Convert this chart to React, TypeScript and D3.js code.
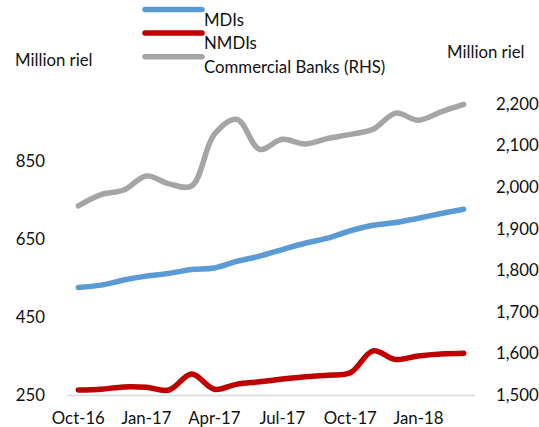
import React from "react";
import * as d3 from "d3";

// Monthly observations, Oct-16 .. Mar-18
const months = [
  "Oct-16", "Nov-16", "Dec-16", "Jan-17", "Feb-17", "Mar-17",
  "Apr-17", "May-17", "Jun-17", "Jul-17", "Aug-17", "Sep-17",
  "Oct-17", "Nov-17", "Dec-17", "Jan-18", "Feb-18", "Mar-18",
];
const tickMonths = ["Oct-16", "Jan-17", "Apr-17", "Jul-17", "Oct-17", "Jan-18"];

// Left axis (million riel)
const mdis = [526, 532, 545, 555, 562, 572, 576, 593, 606, 623, 639, 652, 671, 685, 692, 703, 715, 726];
const nmdis = [264, 266, 272, 271, 264, 305, 266, 279, 285, 292, 298, 302, 308, 364, 342, 351, 356, 358];
// Right axis (million riel)
const commercialBanks = [1955, 1982, 1993, 2027, 2008, 2003, 2127, 2163, 2091, 2115, 2104, 2117, 2127, 2139, 2178, 2161, 2181, 2199];

const leftTicks = [250, 450, 650, 850];
const rightTicks = [1500, 1600, 1700, 1800, 1900, 2000, 2100, 2200];

const BLUE = "#5B9BD5";
const RED = "#C00000";
const GRAY = "#A5A5A5";
const FONT = "Lato, 'Open Sans', sans-serif";
const TEXT = "#111";
const FS = 16.8;

export default function App() {
  const width = 539;
  const height = 427;

  const x = d3.scaleBand<string>().domain(months).range([67, 475]);
  const cx = (m: string) => (x(m) ?? 0) + x.bandwidth() / 2;

  const yLeft = d3.scaleLinear().domain([250, 850]).range([395.5, 160.7]);
  const yRight = d3.scaleLinear().domain([1500, 2200]).range([395, 104]);

  const lineLeft = d3
    .line<number>()
    .x((_, i) => cx(months[i]))
    .y((v) => yLeft(v))
    .curve(d3.curveCatmullRom.alpha(0.5));
  const lineRight = d3
    .line<number>()
    .x((_, i) => cx(months[i]))
    .y((v) => yRight(v))
    .curve(d3.curveCatmullRom.alpha(0.5));

  const legend = [
    { label: "MDIs", color: BLUE },
    { label: "NMDIs", color: RED },
    { label: "Commercial Banks (RHS)", color: GRAY },
  ];

  return (
    <svg
      width={width}
      height={height}
      style={{ position: "absolute", left: 0, top: 0, background: "#fff" }}
      fontFamily={FONT}
    >
      {/* legend */}
      {legend.map((d, i) => (
        <g key={d.label}>
          <line
            x1={145}
            x2={202}
            y1={9.5 + i * 23.6}
            y2={9.5 + i * 23.6}
            stroke={d.color}
            strokeWidth={5.5}
            strokeLinecap="round"
          />
          <text x={204} y={20 + i * 23.6} dy="0.35em" fontSize={FS} fill={TEXT}>
            {d.label}
          </text>
        </g>
      ))}

      {/* axis titles */}
      <text x={15} y={60} dy="0.35em" fontSize={FS} fill={TEXT}>
        Million riel
      </text>
      <text x={447} y={52} dy="0.35em" fontSize={FS} fill={TEXT}>
        Million riel
      </text>

      {/* left ticks */}
      {leftTicks.map((t) => (
        <text key={t} x={45} y={yLeft(t)} dy="0.35em" textAnchor="end" fontSize={FS} fill={TEXT}>
          {t}
        </text>
      ))}
      {/* right ticks */}
      {rightTicks.map((t) => (
        <text key={t} x={496} y={yRight(t)} dy="0.35em" fontSize={FS} fill={TEXT}>
          {d3.format(",")(t)}
        </text>
      ))}

      {/* category axis */}
      <line x1={67} x2={475} y1={395.5} y2={395.5} stroke="#D9D9D9" strokeWidth={1.5} />
      {tickMonths.map((m) => (
        <text key={m} x={cx(m)} y={418} dy="0.35em" textAnchor="middle" fontSize={FS} fill={TEXT}>
          {m}
        </text>
      ))}

      {/* series */}
      <path d={lineRight(commercialBanks) ?? ""} fill="none" stroke={GRAY} strokeWidth={5.5} strokeLinecap="round" strokeLinejoin="round" />
      <path d={lineLeft(mdis) ?? ""} fill="none" stroke={BLUE} strokeWidth={5.5} strokeLinecap="round" strokeLinejoin="round" />
      <path d={lineLeft(nmdis) ?? ""} fill="none" stroke={RED} strokeWidth={5.5} strokeLinecap="round" strokeLinejoin="round" />
    </svg>
  );
}
